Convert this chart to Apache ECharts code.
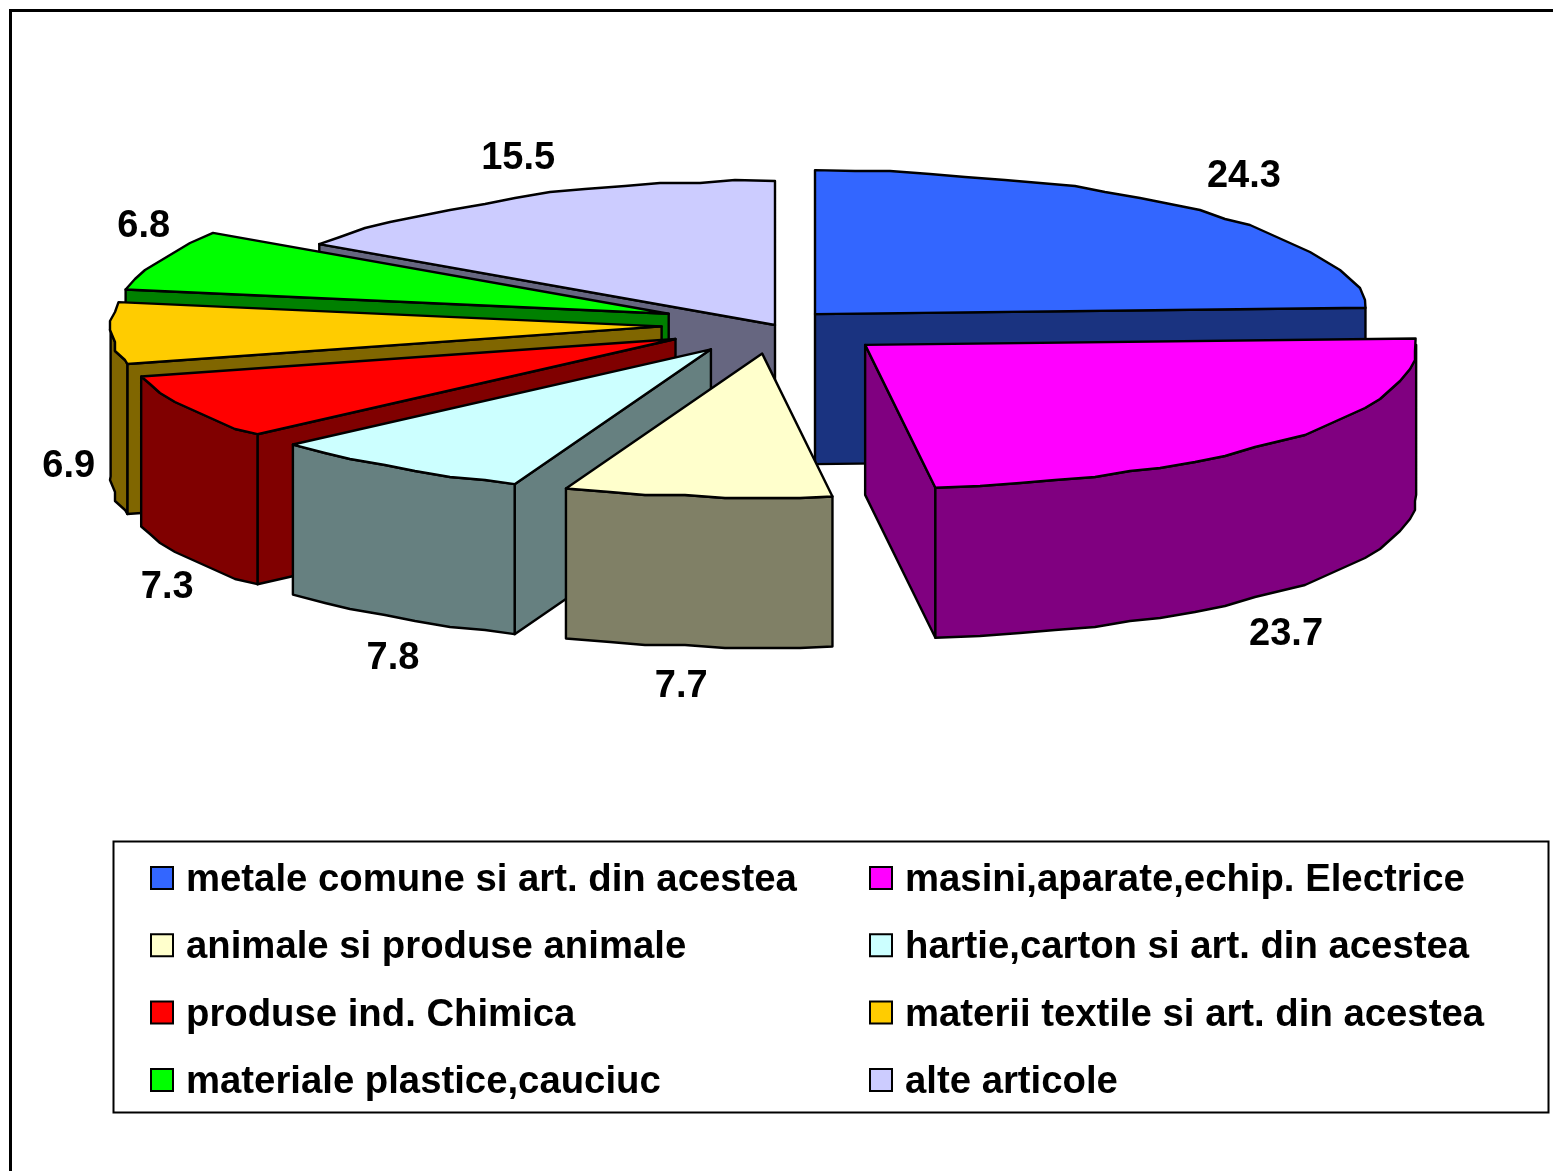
<!DOCTYPE html>
<html><head><meta charset="utf-8">
<style>html,body{margin:0;padding:0;background:#fff}#c{width:1553px;height:1171px}</style>
<script src="https://cdn.jsdelivr.net/npm/echarts@6/dist/echarts.min.js"></script>
</head><body><div id="c"></div>
<script>
const categories = ['metale comune si art. din acestea','masini,aparate,echip. Electrice','animale si produse animale','hartie,carton si art. din acestea','produse ind. Chimica','materii textile si art. din acestea','materiale plastice,cauciuc','alte articole'];
const values = [24.3,23.7,7.7,7.8,7.3,6.9,6.8,15.5];
const topColors = ['#3366FF','#FF00FF','#FFFFCC','#CCFFFF','#FF0000','#FFCC00','#00FF00','#CCCCFF'];
const wallColors = ['#1A3380','#800080','#808066','#668080','#800000','#806600','#008000','#666680'];
// layout of the exploded 3D pie
const pie = {cx:775, cy:325, rx:551, ry:144, depth:150, persp:.00012};
const explode = [.105,.214,.2,.205,.205,.206,.208,0];
const paintOrder = [2,8,7,6,5,4,3,1]; // z of each slice (back to front)
const labelOffset = [[48,-34],[-5,47],[-16,40],[-1,41],[-19,30],[-42,-17],[-14,-33],[1,-39]];
const FONT = '"Liberation Sans",Arial,sans-serif';
const total = values.reduce((a,b)=>a+b,0);
const rad = d => d*Math.PI/180;
function pt(o,deg,dz=0){
  const y=-pie.ry*Math.cos(rad(deg));
  const scale=1+pie.persp*Math.max(y,0);
  return [o[0]+pie.rx*Math.sin(rad(deg))*scale, o[1]+y+dz];
}
function renderSlice(i){
  return function(params, api){
    const v = api.value(0);
    let before = 0; for(let k=0;k<i;k++) before += values[k];
    const a0 = before/total*360, a1 = (before+v)/total*360, mid=(a0+a1)/2;
    const m = [pie.rx*Math.sin(rad(mid))*explode[i], -pie.ry*Math.cos(rad(mid))*explode[i]];
    const o = [pie.cx+m[0], pie.cy+m[1]];
    const d = pie.depth, wall = wallColors[i], line={stroke:'#000',lineWidth:2.4,lineJoin:'round'};
    const poly = (points,fill)=>({type:'polygon',shape:{points},style:Object.assign({fill},line)});
    const arc = (s,e,dz)=>{
      // rim sampled on a fixed 4-degree grid, with small rounding: the reference's rim is slightly lumpy
      const out=[pt(o,s,dz)];
      for(let a=Math.ceil((s+.8)/4)*4;a<e-.8;a+=4){
        const p=pt(o,a,dz);
        out.push([Math.round(p[0]/5)*5,Math.round(p[1]/3)*3]);
      }
      out.push(pt(o,e,dz));
      return out;
    };
    const children=[];
    // radial walls facing the viewer
    if(Math.cos(rad(a0-90))<-1e-6){const p=pt(o,a0);children.push(poly([o,p,[p[0],p[1]+d],[o[0],o[1]+d]],wall));}
    if(Math.cos(rad(a1+90))<-1e-6){const p=pt(o,a1);children.push(poly([o,p,[p[0],p[1]+d],[o[0],o[1]+d]],wall));}
    // outer rim, front half only
    const s=Math.max(a0,90), e=Math.min(a1,270);
    if(e>s){children.push(poly(arc(s,e,0).concat(arc(s,e,d).reverse()),wall));}
    // top face
    children.push(poly([o].concat(arc(a0,a1,0)),topColors[i]));
    // value label
    const front=Math.cos(rad(mid))<0;
    const lp=pt(o,mid,front?d:0);
    children.push({type:'text',z2:50,style:{text:String(v),x:lp[0]+labelOffset[i][0],y:lp[1]+labelOffset[i][1],align:'center',verticalAlign:'middle',fill:'#000',fontFamily:FONT,fontWeight:'bold',fontSize:38}});
    return {type:'group',children};
  };
}
const series = categories.map((name,i)=>({
  type:'custom',name,coordinateSystem:'none',z:paintOrder[i]+2,silent:true,animation:false,
  itemStyle:{color:topColors[i]},
  data:[[values[i]]],renderItem:renderSlice(i)
}));
const legendBase = {orient:'vertical',icon:'rect',padding:0,itemWidth:22,itemHeight:22,itemGap:24.3,selectedMode:false,
  itemStyle:{borderColor:'#000',borderWidth:2},
  formatter:n=>'{t|'+n+'}',
  textStyle:{rich:{t:{fontFamily:FONT,fontWeight:'bold',fontSize:38.3,lineHeight:40,color:'#000',padding:[5,0,0,8]}}}};
const chart = echarts.init(document.getElementById('c'),null,{renderer:'canvas'});
chart.setOption({
  backgroundColor:'#fff',animation:false,
  graphic:[
    {type:'rect',silent:true,z:1,shape:{x:10.5,y:10.5,width:1600,height:1300},style:{fill:'#fff',stroke:'#000',lineWidth:3}},
    {type:'rect',silent:true,z:1,shape:{x:113.5,y:841.5,width:1435,height:271},style:{fill:'#fff',stroke:'#000',lineWidth:2}}
  ],
  legend:[
    Object.assign({},legendBase,{left:150,top:856.5,data:categories.filter((c,i)=>i%2===0)}),
    Object.assign({},legendBase,{left:869,top:856.5,data:categories.filter((c,i)=>i%2===1)})
  ],
  series
});
</script></body></html>
